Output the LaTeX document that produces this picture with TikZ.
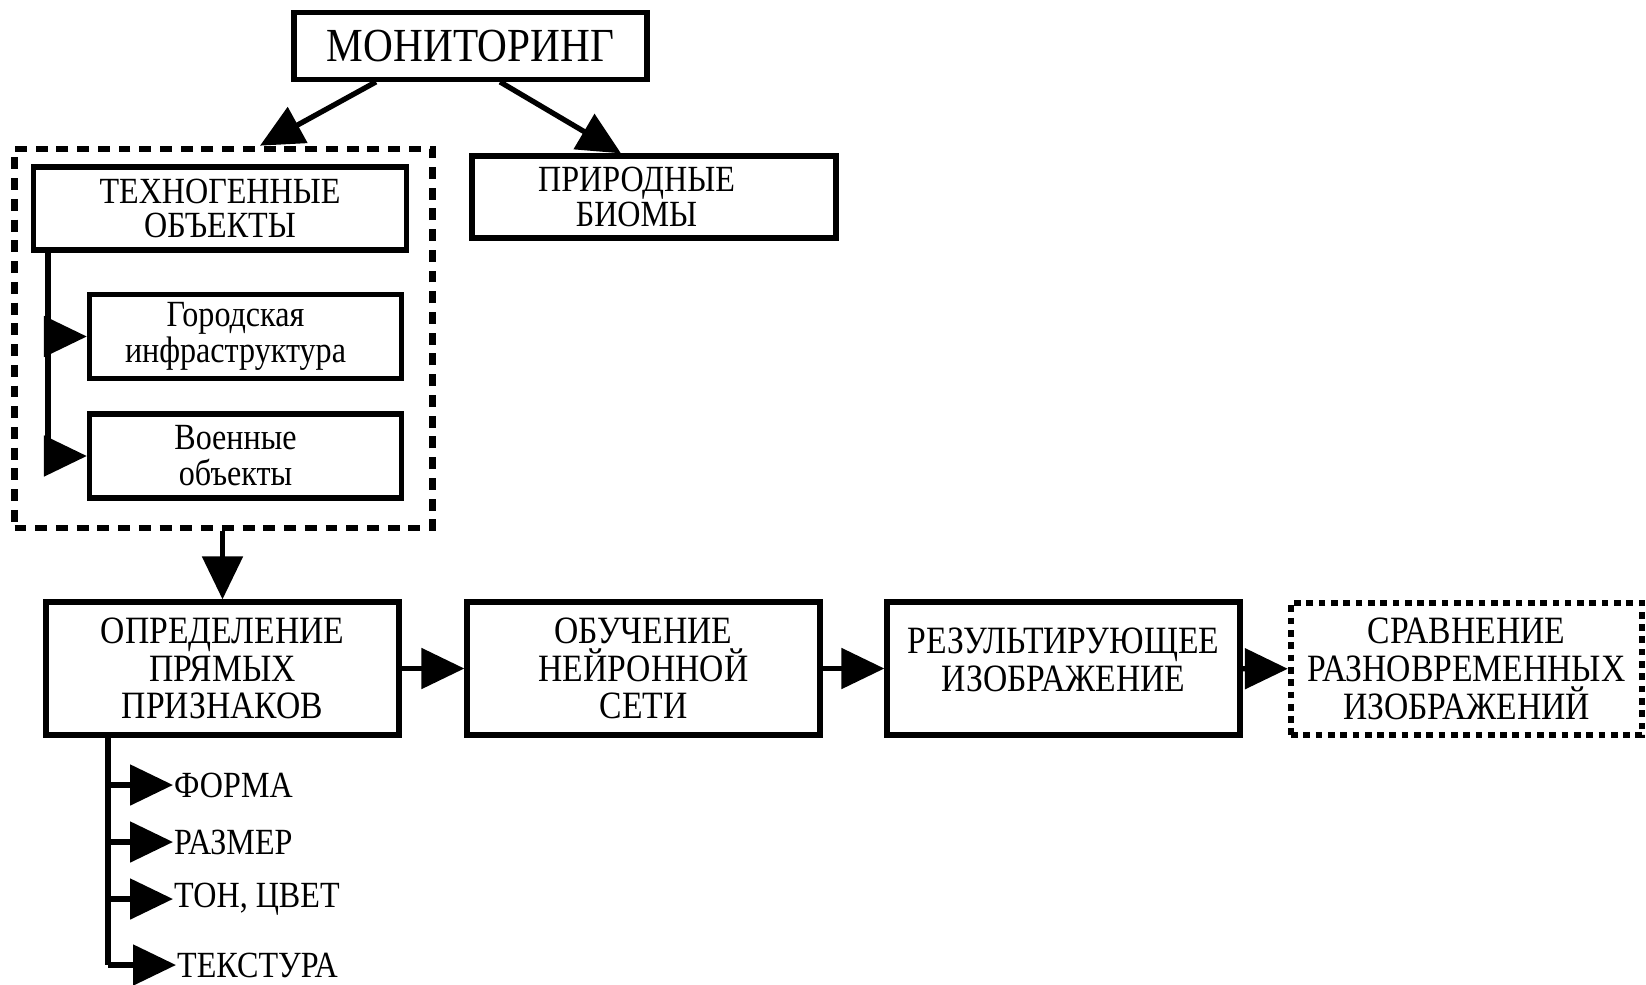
\documentclass[tikz,border=0pt]{standalone}
\usepackage{fontspec}
\setmainfont{Liberation Serif}[FakeStretch=0.87]
\usetikzlibrary{arrows.meta,positioning}

\begin{document}
\begin{tikzpicture}
\tikzstyle{block}=[draw, line width=3pt, rectangle, align=center, inner sep=2pt, font=\fontsize{22}{21.5}\selectfont]
\tikzstyle{subblock}=[block, minimum width=6.24cm, minimum height=1.68cm, font=\fontsize{21}{20.5}\selectfont]
\tikzstyle{groupbox}=[draw, line width=3.8pt, dash pattern=on 6.8pt off 5pt, rectangle, minimum width=8.36cm, minimum height=7.58cm]
\tikzstyle{dotbox}=[block, line width=3.6pt, dash pattern=on 3.8pt off 3.2pt]
\tikzstyle{feature}=[anchor=west, inner sep=0.5pt, font=\fontsize{21}{21}\selectfont]
\tikzstyle{arr}=[line width=3pt, -{Triangle[length=0.86cm, width=0.8cm]}]

\useasboundingbox (0,0) rectangle (32.92,-19.68);

\node[block, minimum width=7.06cm, minimum height=1.33cm, font=\fontsize{27}{27}\selectfont] (monitor) at (9.41, -0.92) {МОНИТОРИНГ};
\node[groupbox] (techgroup) at (4.47, -6.77) {};
\node[block, minimum width=7.47cm, minimum height=1.66cm, font=\fontsize{21}{19.5}\selectfont] (techno) at (4.40, -4.17) {ТЕХНОГЕННЫЕ\\ОБЪЕКТЫ};
\node[block, minimum width=7.28cm, minimum height=1.64cm, font=\fontsize{21}{19.5}\selectfont] (biomes) at (13.08, -3.94) {ПРИРОДНЫЕ\hspace*{0.7cm}\\БИОМЫ\hspace*{0.7cm}};
\node[subblock] (city) at (4.91, -6.73) {Городская\hspace*{0.4cm}\\инфраструктура\hspace*{0.4cm}};
\node[subblock] (military) at (4.91, -9.12) {Военные\hspace*{0.4cm}\\объекты\hspace*{0.4cm}};

\draw[arr] ([xshift=-1.89cm]monitor.south) -- ([xshift=0.73cm]techgroup.north);
\draw[arr] ([xshift=0.59cm]monitor.south) -- ([xshift=-0.66cm]biomes.north);
\draw[line width=3pt] (0.96, -5.04) -- (0.96, -9.3);
\draw[arr] (0.96, -6.73) -- (city.west);
\draw[arr] (0.96, -9.12) -- (military.west);

\node[block, minimum width=7.06cm, minimum height=2.66cm] (features) at (4.45, -13.37) {ОПРЕДЕЛЕНИЕ\\ПРЯМЫХ\\ПРИЗНАКОВ};
\node[block, minimum width=7.06cm, minimum height=2.66cm] (training) at (12.87, -13.37) {ОБУЧЕНИЕ\\НЕЙРОННОЙ\\СЕТИ};
\node[block, minimum width=7.06cm, minimum height=2.66cm] (result) at (21.27, -13.37) {РЕЗУЛЬТИРУЮЩЕЕ\\ИЗОБРАЖЕНИЕ\\[-0.4cm]};
\node[dotbox, minimum width=7.02cm, minimum height=2.64cm] (compare) at (29.33, -13.38) {СРАВНЕНИЕ\\РАЗНОВРЕМЕННЫХ\\ИЗОБРАЖЕНИЙ};

\draw[arr] (techgroup.south -| features.north) -- (features.north);
\draw[arr] (features) -- (training);
\draw[arr] (training) -- (result);
\draw[arr] (result) -- (compare);

\node[feature] (shape) at (3.46, -15.70) {ФОРМА};
\node[feature] (size) at (3.46, -16.84) {РАЗМЕР};
\node[feature] (tone) at (3.46, -17.98) {ТОН, ЦВЕТ};
\node[feature] (texture) at (3.52, -19.30) {ТЕКСТУРА};
\draw[line width=3pt] (2.16, -14.70) -- (2.16, -19.30);
\foreach \f in {shape, size, tone, texture}
  \draw[arr] (2.16, 0 |- \f.west) -- (\f.west);

\end{tikzpicture}
\end{document}
